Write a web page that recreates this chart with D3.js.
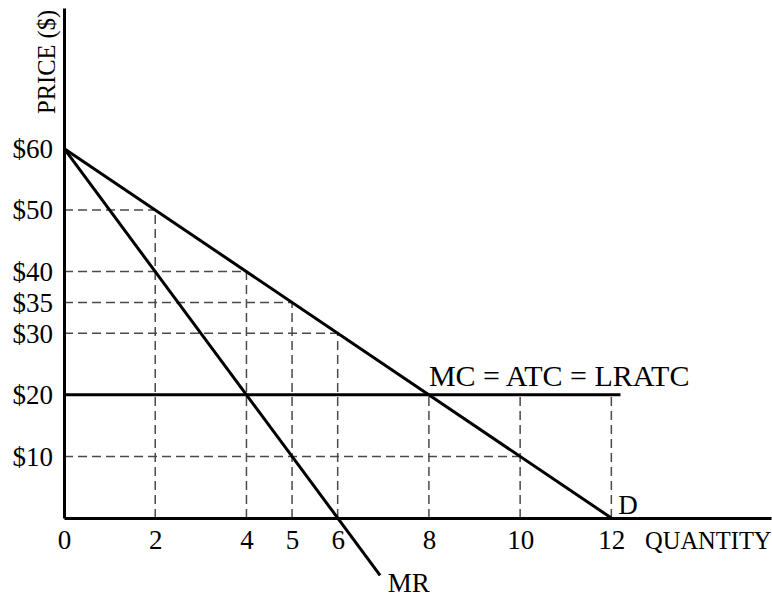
<!DOCTYPE html>
<html>
<head>
<meta charset="utf-8">
<script src="https://cdn.jsdelivr.net/npm/d3@7"></script>
<style>
  body { margin: 0; background: #fff; }
  svg text { font-family: "Liberation Serif", "Times New Roman", serif; fill: #000; }
</style>
</head>
<body>
<div id="chart"></div>
<script>
// chart values
const priceTicks = [10, 20, 30, 35, 40, 50, 60];
const qtyTicks = [0, 2, 4, 5, 6, 8, 10, 12];

const demandLine = [{ q: 0, p: 60 }, { q: 12, p: 0 }];
const mrLine = [{ q: 0, p: 60 }, { q: 6.93, p: -9.3 }];
const mcLine = [{ q: 0, p: 20 }, { q: 12.2, p: 20 }];

// dashed guides: horizontal from q=0 to q, vertical from p=0 to p
const hGuides = [{ q: 2, p: 50 }, { q: 4, p: 40 }, { q: 5, p: 35 }, { q: 6, p: 30 }, { q: 10, p: 10 }];
const vGuides = [{ q: 2, p: 50 }, { q: 4, p: 40 }, { q: 5, p: 35 }, { q: 6, p: 30 },
                 { q: 8, p: 20 }, { q: 10, p: 20 }, { q: 12, p: 20 }];

const labels = [
    { text: "MC = ATC = LRATC", q: 8.0, p: 21.5, size: 30 },
    { text: "D", q: 12.15, p: 0.7, size: 27 },
    { text: "MR", q: 7.1, p: -12, size: 27 }
];

const width = 772, height = 599;

const svg = d3.select("#chart").append("svg")
    .attr("width", width)
    .attr("height", height);

const x = d3.scaleLinear().domain([0, 15.5]).range([64, 771]);
const y = d3.scaleLinear().domain([0, 82.8]).range([518, 8]);

const line = d3.line().x(d => x(d.q)).y(d => y(d.p));

// dashed guides
const guides = svg.append("g")
    .attr("stroke", "#4a4a4a")
    .attr("stroke-width", 1.5)
    .attr("stroke-dasharray", "9,5");

guides.selectAll(".h-guide")
    .data(hGuides)
    .enter()
    .append("line")
    .attr("class", "h-guide")
    .attr("x1", x(0))
    .attr("x2", d => x(d.q))
    .attr("y1", d => y(d.p))
    .attr("y2", d => y(d.p));

guides.selectAll(".v-guide")
    .data(vGuides)
    .enter()
    .append("line")
    .attr("class", "v-guide")
    .attr("x1", d => x(d.q))
    .attr("x2", d => x(d.q))
    .attr("y1", y(0))
    .attr("y2", d => y(d.p));

// curves
[demandLine, mrLine, mcLine].forEach(data => {
    svg.append("path")
        .datum(data)
        .attr("fill", "none")
        .attr("stroke", "#000")
        .attr("stroke-width", 3)
        .attr("d", line);
});

// axes
const xAxis = svg.append("g")
    .attr("transform", `translate(0, ${y(0)})`)
    .call(d3.axisBottom(x).tickValues(qtyTicks).tickSize(0).tickSizeOuter(0).tickPadding(12));

const yAxis = svg.append("g")
    .attr("transform", `translate(${x(0)}, 0)`)
    .call(d3.axisLeft(y).tickValues(priceTicks).tickSize(0).tickSizeOuter(0).tickPadding(11)
        .tickFormat(d => `$${d}`));

[xAxis, yAxis].forEach(g => {
    g.select(".domain").attr("stroke", "#000").attr("stroke-width", 3);
    g.selectAll("text")
        .attr("font-family", "Liberation Serif")
        .attr("font-size", 27)
        .attr("fill", "#000");
});
xAxis.selectAll("text").attr("dy", "0.71em");
yAxis.selectAll("text").attr("dy", "0.33em");

// curve labels
svg.selectAll(".curve-label")
    .data(labels)
    .enter()
    .append("text")
    .attr("class", "curve-label")
    .attr("x", d => x(d.q))
    .attr("y", d => y(d.p))
    .attr("font-size", d => d.size)
    .text(d => d.text);

// axis titles
svg.append("text")
    .attr("x", 645)
    .attr("y", 549)
    .attr("font-size", 24.5)
    .text("QUANTITY");

svg.append("text")
    .attr("transform", "translate(55, 114) rotate(-90)")
    .attr("font-size", 24.5)
    .text("PRICE ($)");
</script>
</body>
</html>
